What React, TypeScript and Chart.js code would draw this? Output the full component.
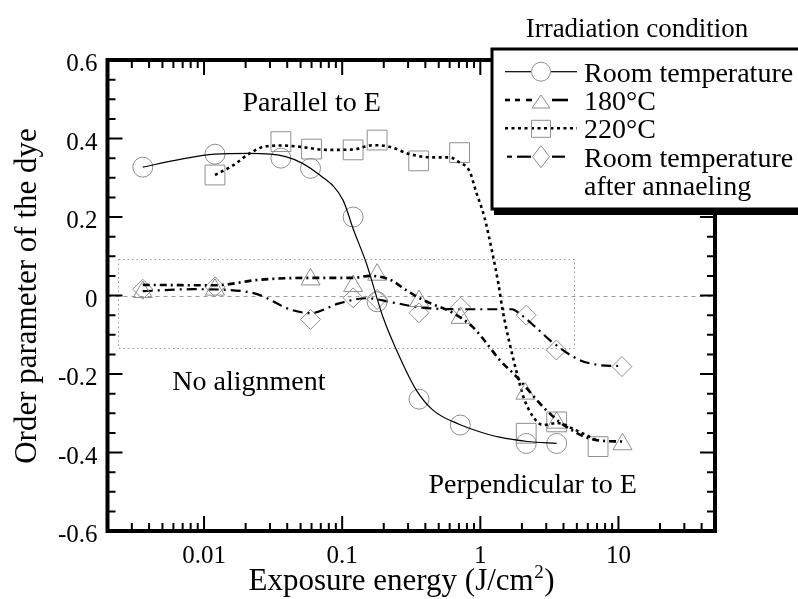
import React, { useEffect, useRef } from "react";
import { Chart, registerables } from "chart.js";

Chart.register(...registerables);

const FONT = "'Liberation Serif', 'Times New Roman', Times, serif";
Chart.defaults.font.family = FONT;
Chart.defaults.color = "#000";

// ---- axes ----
const xRange = [0.002, 50];
const yRange = [-0.6, 0.6];
const xTickValues = [0.01, 0.1, 1, 10];
const xTickLabels = ["0.01", "0.1", "1", "10"];
const yTickValues = [-0.6, -0.4, -0.2, 0, 0.2, 0.4, 0.6];
const yTickLabels = ["-0.6", "-0.4", "-0.2", "0", "0.2", "0.4", "0.6"];
const yMinorStep = 0.05;

const xTitleMain = "Exposure energy (J/cm";
const xTitleSup = "2";
const xTitleEnd = ")";
const yTitle = "Order parameter of the dye";

// ---- legend ----
const legendTitle = "Irradiation condition";
const seriesLabels = [["Room temperature"], ["180°C"], ["220°C"], ["Room temperature", "after annaeling"]];

// ---- annotations ----
const noAlignBoxX = [0.0024, 4.8];
const noAlignBoxY = [-0.135, 0.093];
const annotationTexts = ["Parallel to E", "No alignment", "Perpendicular to E"];
const annotationX = [0.0602, 0.0211, 2.39];
const annotationY = [0.47, -0.241, -0.503];

// ---- Room temperature (circles, solid fit) ----
const rtX = [0.0036, 0.012, 0.036, 0.059, 0.12, 0.179, 0.36, 0.716, 2.15, 3.57];
const rtY = [0.327, 0.36, 0.35, 0.324, 0.2, -0.016, -0.264, -0.33, -0.377, -0.377];
const rtFitX = [0.0036, 0.0063, 0.012, 0.0214, 0.039, 0.0688, 0.1014, 0.12, 0.1496, 0.197, 0.26, 0.344, 0.454, 0.7, 0.987, 1.378, 2.2, 3.57];
const rtFitY = [0.327, 0.345, 0.36, 0.362, 0.354, 0.307, 0.243, 0.17, 0.082, -0.054, -0.156, -0.241, -0.292, -0.328, -0.347, -0.361, -0.372, -0.377];

// ---- 180 °C (triangles, dash-dot fit) ----
const t180X = [0.0036, 0.012, 0.059, 0.12, 0.179, 0.36, 0.72, 2.12, 3.57, 10.7];
const t180Y = [0.009, 0.015, 0.041, 0.024, 0.053, -0.014, -0.057, -0.25, -0.324, -0.379];
const t180FitX = [0.0036, 0.012, 0.025, 0.059, 0.12, 0.159, 0.22, 0.29, 0.36, 0.45, 0.6, 0.88, 1.04, 1.38, 1.83, 3.0, 4.18, 6.8, 10.7];
const t180FitY = [0.027, 0.026, 0.04, 0.045, 0.045, 0.05, 0.041, 0.014, -0.006, -0.022, -0.04, -0.08, -0.109, -0.164, -0.207, -0.292, -0.334, -0.368, -0.372];

// ---- 220 °C (squares, dotted fit) ----
const s220X = [0.012, 0.036, 0.06, 0.12, 0.179, 0.358, 0.708, 2.15, 3.57, 7.12];
const s220Y = [0.307, 0.392, 0.373, 0.371, 0.396, 0.343, 0.364, -0.351, -0.322, -0.385];
const s220FitX = [0.012, 0.0163, 0.0214, 0.027, 0.036, 0.049, 0.077, 0.12, 0.167, 0.22, 0.31, 0.45, 0.6, 0.7, 0.84, 0.93, 1.07, 1.21, 1.35, 1.45, 1.63, 1.84, 2.05, 2.41, 2.84, 3.6, 4.9, 6.9];
const s220FitY = [0.307, 0.332, 0.362, 0.379, 0.382, 0.379, 0.371, 0.372, 0.383, 0.379, 0.36, 0.352, 0.352, 0.34, 0.315, 0.265, 0.2, 0.116, 0.031, -0.037, -0.122, -0.198, -0.258, -0.309, -0.33, -0.325, -0.343, -0.368];

// ---- Room temperature after annealing (diamonds, long dash-dot fit) ----
const anX = [0.0036, 0.012, 0.059, 0.12, 0.179, 0.36, 0.72, 2.15, 3.55, 10.6];
const anY = [0.016, 0.022, -0.061, -0.006, -0.01, -0.044, -0.03, -0.05, -0.139, -0.181];
const anFitX = [0.0036, 0.0083, 0.019, 0.0254, 0.0416, 0.059, 0.095, 0.15, 0.234, 0.36, 0.7, 1.7, 1.91, 2.5, 3.3, 5.2, 7.2, 10.6];
const anFitY = [0.011, 0.016, 0.011, 0.001, -0.035, -0.045, -0.02, -0.007, -0.018, -0.03, -0.035, -0.035, -0.045, -0.08, -0.118, -0.164, -0.177, -0.18];

const MARK = "#8f8f8f";
const LINE = "#000000";
const styles = [
  { dash: [] as number[], width: 1.2, marker: "circle", radius: 10 },
  { dash: [7, 4, 2, 4], width: 2.6, marker: "triangle", radius: 11 },
  { dash: [3, 3.5], width: 2.6, marker: "rect", radius: 14 },
  { dash: [10, 5, 2, 5], width: 2.2, marker: "rectRot", radius: 10 },
];

const toPts = (xs: number[], ys: number[]) => xs.map((x, i) => ({ x, y: ys[i] }));

function fitSet(xs: number[], ys: number[], s: any) {
  return {
    data: toPts(xs, ys),
    showLine: true,
    pointRadius: 0,
    borderColor: LINE,
    borderWidth: s.width,
    borderDash: s.dash,
    cubicInterpolationMode: "monotone",
    fill: false,
  };
}
function markSet(xs: number[], ys: number[], s: any) {
  return {
    data: toPts(xs, ys),
    showLine: false,
    pointStyle: s.marker,
    pointRadius: s.radius,
    pointBorderColor: MARK,
    pointBackgroundColor: "rgba(0,0,0,0)",
    pointBorderWidth: 1,
  };
}

function legendMarker(ctx: CanvasRenderingContext2D, kind: string, cx: number, cy: number) {
  ctx.beginPath();
  if (kind === "circle") ctx.arc(cx, cy, 9.5, 0, Math.PI * 2);
  else if (kind === "triangle") {
    ctx.moveTo(cx, cy - 5);
    ctx.lineTo(cx + 9, cy + 8);
    ctx.lineTo(cx - 9, cy + 8);
    ctx.closePath();
  } else if (kind === "rect") ctx.rect(cx - 9.5, cy - 8, 19, 17);
  else {
    ctx.moveTo(cx, cy - 11);
    ctx.lineTo(cx + 8.5, cy);
    ctx.lineTo(cx, cy + 11);
    ctx.lineTo(cx - 8.5, cy);
    ctx.closePath();
  }
  ctx.stroke();
}

const framePlugin = {
  id: "frame",
  beforeDatasetsDraw(chart: any) {
    const { ctx, chartArea: a, scales } = chart;
    const x = scales.x, y = scales.y;
    ctx.save();
    ctx.strokeStyle = "#9a9a9a";
    ctx.lineWidth = 1;
    ctx.setLineDash([4, 4]);
    const y0 = Math.round(y.getPixelForValue(0)) + 0.5;
    ctx.beginPath();
    ctx.moveTo(a.left, y0);
    ctx.lineTo(a.right, y0);
    ctx.stroke();
    ctx.setLineDash([1.5, 3]);
    const bx1 = Math.round(x.getPixelForValue(noAlignBoxX[0])) + 0.5;
    const bx2 = Math.round(x.getPixelForValue(noAlignBoxX[1])) + 0.5;
    const by1 = Math.round(y.getPixelForValue(noAlignBoxY[1])) + 0.5;
    const by2 = Math.round(y.getPixelForValue(noAlignBoxY[0])) + 0.5;
    ctx.strokeRect(bx1, by1, bx2 - bx1, by2 - by1);
    ctx.restore();
  },
  afterDatasetsDraw(chart: any) {
    const { ctx, chartArea: a, scales } = chart;
    const x = scales.x, y = scales.y;
    ctx.save();
    // annotations
    ctx.fillStyle = "#000";
    ctx.font = `28px ${FONT}`;
    ctx.textAlign = "center";
    ctx.textBaseline = "alphabetic";
    annotationTexts.forEach((t, i) => {
      ctx.fillText(t, x.getPixelForValue(annotationX[i]), y.getPixelForValue(annotationY[i]));
    });
    // inward ticks
    ctx.strokeStyle = "#000";
    ctx.lineWidth = 2;
    ctx.setLineDash([]);
    ctx.beginPath();
    const d0 = Math.floor(Math.log10(xRange[0]));
    const d1 = Math.ceil(Math.log10(xRange[1]));
    for (let d = d0; d <= d1; d++) {
      for (let m = 1; m <= 9; m++) {
        const v = m * Math.pow(10, d);
        if (v <= xRange[0] * 1.0001 || v >= xRange[1] * 0.9999) continue;
        const px = x.getPixelForValue(v);
        const len = m === 1 ? 15 : 8;
        ctx.moveTo(px, a.bottom);
        ctx.lineTo(px, a.bottom - len);
        ctx.moveTo(px, a.top);
        ctx.lineTo(px, a.top + len);
      }
    }
    const n = Math.round((yRange[1] - yRange[0]) / yMinorStep);
    for (let i = 1; i < n; i++) {
      const v = yRange[0] + i * yMinorStep;
      const major = yTickValues.some((t) => Math.abs(t - v) < 1e-6);
      const py = y.getPixelForValue(v);
      const len = major ? 15 : 8;
      ctx.moveTo(a.left, py);
      ctx.lineTo(a.left + len, py);
      ctx.moveTo(a.right, py);
      ctx.lineTo(a.right - len, py);
    }
    ctx.stroke();
    // frame
    ctx.lineWidth = 4;
    ctx.strokeRect(a.left, a.top, a.right - a.left, a.bottom - a.top);

    // tick labels (serif)
    ctx.fillStyle = "#000";
    ctx.font = `25px ${FONT}`;
    ctx.textBaseline = "alphabetic";
    ctx.textAlign = "center";
    xTickValues.forEach((v, i) => {
      ctx.fillText(xTickLabels[i], x.getPixelForValue(v), a.bottom + 32);
    });
    ctx.textAlign = "right";
    yTickValues.forEach((v, i) => {
      ctx.fillText(yTickLabels[i], a.left - 10, y.getPixelForValue(v) + 11);
    });

    // axis titles
    ctx.textBaseline = "alphabetic";
    ctx.font = `31px ${FONT}`;
    const wMain = ctx.measureText(xTitleMain).width;
    const wEnd = ctx.measureText(xTitleEnd).width;
    ctx.font = `19px ${FONT}`;
    const wSup = ctx.measureText(xTitleSup).width;
    const total = wMain + wSup + wEnd;
    const cx = 401;
    const sx = cx - total / 2;
    ctx.textAlign = "left";
    ctx.font = `31px ${FONT}`;
    ctx.fillText(xTitleMain, sx, 590);
    ctx.font = `19px ${FONT}`;
    ctx.fillText(xTitleSup, sx + wMain + 0.5, 578);
    ctx.font = `31px ${FONT}`;
    ctx.fillText(xTitleEnd, sx + wMain + wSup + 1, 590);

    ctx.save();
    ctx.translate(36, 296);
    ctx.rotate(-Math.PI / 2);
    ctx.textAlign = "center";
    ctx.fillText(yTitle, 0, 0);
    ctx.restore();
    ctx.restore();
  },
  afterDraw(chart: any) {
    const { ctx } = chart;
    ctx.save();
    // legend title
    ctx.fillStyle = "#000";
    ctx.font = `27px ${FONT}`;
    ctx.textAlign = "center";
    ctx.textBaseline = "alphabetic";
    ctx.fillText(legendTitle, 637, 37);
    // box with shadow
    const lx = 492, ly = 49, lw = 330, lh = 160;
    ctx.fillStyle = "#000";
    ctx.fillRect(lx + 2, ly + 3, lw, lh + 3);
    ctx.fillStyle = "#fff";
    ctx.fillRect(lx, ly, lw, lh);
    ctx.strokeStyle = "#000";
    ctx.lineWidth = 3;
    ctx.strokeRect(lx, ly, lw, lh);

    const rows = [71.7, 100, 128.3, 156.7];
    const segs: number[][][] = [
      [[505, 531], [551, 577]],
      [[505, 510], [515, 520], [526, 532], [552, 568]],
      [[505, 577]],
      [[507, 512], [517, 531], [552, 565]],
    ];
    styles.forEach((s, i) => {
      const ry = rows[i];
      ctx.strokeStyle = LINE;
      ctx.lineWidth = s.width;
      ctx.setLineDash(i === 2 ? s.dash : []);
      segs[i].forEach(([a0, a1]) => {
        ctx.beginPath();
        ctx.moveTo(a0, ry);
        ctx.lineTo(a1, ry);
        ctx.stroke();
      });
      ctx.setLineDash([]);
      ctx.strokeStyle = MARK;
      ctx.lineWidth = 1;
      legendMarker(ctx, s.marker, 541, ry);
      ctx.fillStyle = "#000";
      ctx.font = `28px ${FONT}`;
      ctx.textAlign = "left";
      seriesLabels[i].forEach((t, k) => {
        ctx.fillText(t, 584, ry + 10 + k * 28);
      });
    });
    ctx.restore();
  },
};

export default function App() {
  const ref = useRef<HTMLCanvasElement | null>(null);
  useEffect(() => {
    if (!ref.current) return;
    const chart = new Chart(ref.current, {
      type: "scatter",
      data: {
        datasets: [
          fitSet(rtFitX, rtFitY, styles[0]),
          markSet(rtX, rtY, styles[0]),
          fitSet(t180FitX, t180FitY, styles[1]),
          markSet(t180X, t180Y, styles[1]),
          fitSet(s220FitX, s220FitY, styles[2]),
          markSet(s220X, s220Y, styles[2]),
          fitSet(anFitX, anFitY, styles[3]),
          markSet(anX, anY, styles[3]),
        ] as any,
      },
      options: {
        responsive: false,
        animation: false,
        events: [],
        layout: { padding: { left: 0, top: 60, right: 83, bottom: 0 } },
        plugins: { legend: { display: false }, tooltip: { enabled: false }, title: { display: false } },
        scales: {
          x: {
            type: "logarithmic",
            min: xRange[0],
            max: xRange[1],
            grid: { display: false, drawTicks: false },
            border: { display: false },
            ticks: { display: false },
            afterBuildTicks: (s: any) => {
              s.ticks = xTickValues.map((v) => ({ value: v }));
            },
            afterFit: (s: any) => {
              s.height = 68;
            },
          },
          y: {
            type: "linear",
            min: yRange[0],
            max: yRange[1],
            grid: { display: false, drawTicks: false },
            border: { display: false },
            ticks: { display: false },
            afterBuildTicks: (s: any) => {
              s.ticks = yTickValues.map((v) => ({ value: v }));
            },
            afterFit: (s: any) => {
              s.width = 107.5;
            },
          },
        },
      } as any,
      plugins: [framePlugin],
    });
    return () => chart.destroy();
  }, []);
  return (
    <div style={{ position: "fixed", left: 0, top: 0, width: 798, height: 599, background: "#fff" }}>
      <canvas ref={ref} width={798} height={599} style={{ display: "block", width: 798, height: 599 }} />
    </div>
  );
}
